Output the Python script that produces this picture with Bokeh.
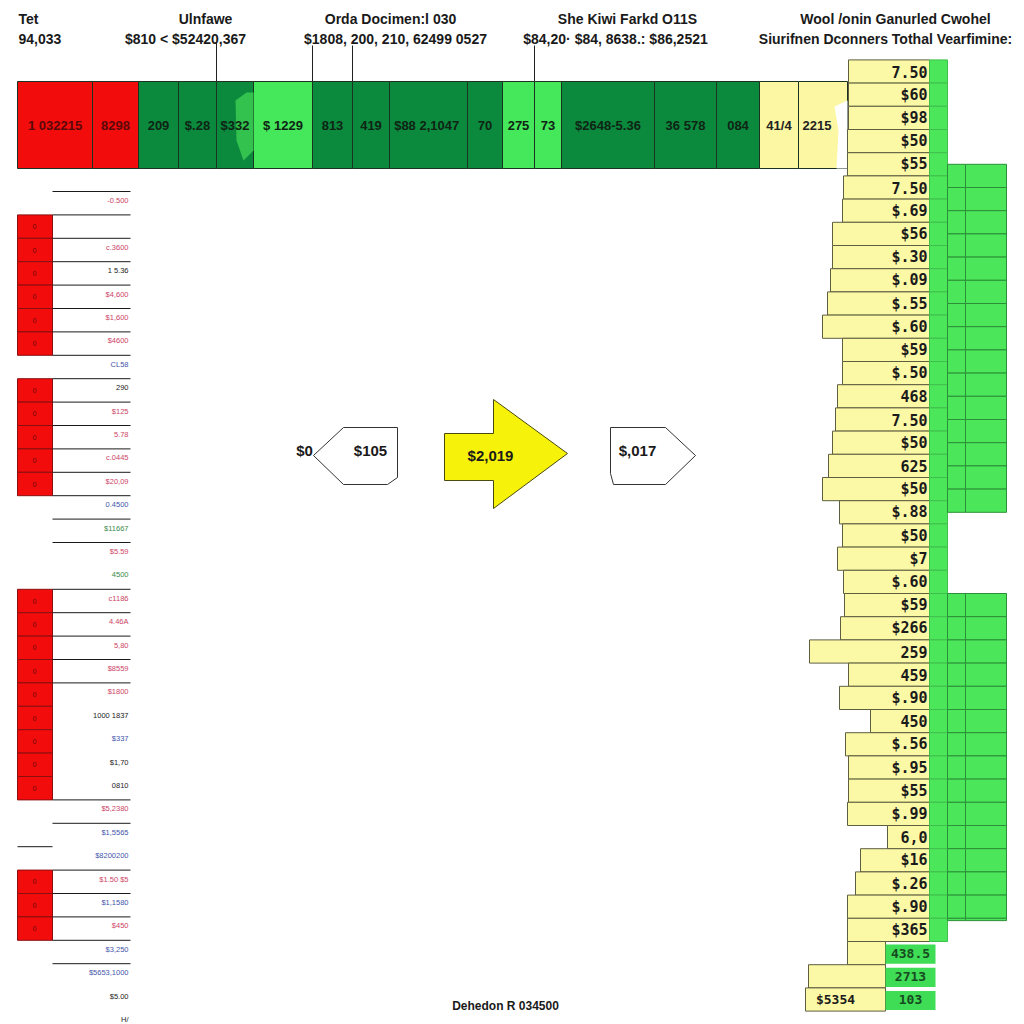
from bokeh.plotting import figure
from bokeh.models import Range1d, ColumnDataSource
from bokeh.embed import file_html
from bokeh.resources import INLINE
from bokeh.core.properties import value
import numpy as np

# ---------------- data ----------------
header_titles = ["Tet", "Ulnfawe", "Orda Docimen:l 030", "She Kiwi Farkd O11S",
                 "Wool /onin Ganurled Cwohel"]
header_values = ["94,033", "$810 < $52420,367", "$1808, 200, 210, 62499 0527",
                 "$84,20\u00b7 $84, 8638.: $86,2521", "Siurifnen Dconners Tothal Vearfimine:"]

top_labels = ["1 032215", "8298", "209", "$.28", "$332", "$ 1229", "813", "419",
              "$88  2,1047", "70", "275", "73", "$2648-5.36", "36 578", "084", "41/4", "2215"]
top_widths = [75, 46, 40, 38, 37, 59, 40, 37, 78, 35, 32, 27, 93, 62, 43, 39, 49]
top_kind = ["loss", "loss", "gain", "gain", "gain", "mid", "gain", "gain", "gain", "gain",
            "mid", "mid", "gain", "gain", "gain", "flat", "flat"]

right_labels = ["7.50", "$60", "$98", "$50", "$55", "7.50", "$.69", "$56", "$.30", "$.09",
                "$.55", "$.60", "$59", "$.50", "468", "7.50", "$50", "625", "$50", "$.88",
                "$50", "$7", "$.60", "$59", "$266", "259", "459", "$.90", "450", "$.56",
                "$.95", "$55", "$.99", "6,0", "$16", "$.26", "$.90", "$365", "438.5", "2713", "103"]
right_lengths = [81, 81, 81, 82, 82, 86, 87, 97, 97, 99, 102, 107, 87, 87, 92, 94, 97, 101,
                 107, 90, 87, 92, 86, 85, 89, 120, 81, 90, 59, 84, 81, 81, 82, 42, 69, 74,
                 82, 82, 82, 121, 124]
right_total_rows = 3
right_extra_label = "$5354"

left_red = [0, 1, 1, 1, 1, 1, 1, 0, 1, 1, 1, 1, 1, 0, 0, 0, 0,
            1, 1, 1, 1, 1, 1, 1, 1, 1, 0, 0, 0, 1, 1, 1, 0]
left_line = [1, 1, 1, 1, 1, 1, 1, 1, 1, 1, 1, 1, 1, 1, 1, 1, 0,
             1, 1, 1, 1, 1, 0, 0, 0, 0, 1, 1, 2, 1, 1, 1, 1]
left_texts = ["-0.500", "", "c.3600", "1 5.36", "$4,600", "$1,600", "$4600", "CL58", "290",
              "$125", "5.78", "c.0445", "$20,09", "0.4500", "$11667", "$5.59", "4500",
              "c1186", "4.46A", "5,80", "$8559", "$1800", "1000 1837", "$337", "$1,70",
              "0810", "$5,2380", "$1,5565", "$8200200", "$1.50 $5", "$1,1580", "$450",
              "$3,250", "$5653,1000", "$5.00", "H/"]
left_text_kind = ["p", "", "p", "k", "p", "p", "p", "b", "k", "p", "p", "p", "p", "b", "g",
                  "p", "g", "p", "p", "p", "p", "p", "k", "b", "k", "k", "p", "b", "b", "p",
                  "b", "p", "b", "b", "k", "k"]

arrow_left_prefix = "$0"
arrow_left_value = "$105"
arrow_mid_value = "$2,019"
arrow_right_value = "$,017"
footer_text = "Dehedon R 034500"

# ---------------- styles ----------------
KIND_FILL = {"loss": "#f20c0c", "gain": "#0b8a3e", "mid": "#45e85a", "flat": "#fbf7a3"}
KIND_TEXT = {"loss": "#5a0808", "gain": "#0f2414", "mid": "#0f2414", "flat": "#222222"}
LEFT_TXT = {"p": "#cc4466", "b": "#4455aa", "g": "#3a8a4a", "k": "#222222", "": "#ffffff"}
YELLOW = "#fbf8a6"
GREEN = "#4ce65a"
GREEN_LINE = "#2a8f38"
FONT = value("Liberation Sans")
MONO = value("DejaVu Sans Mono")

p = figure(width=1024, height=1024, x_range=Range1d(0, 1024), y_range=Range1d(1024, 0),
           output_backend="svg", toolbar_location=None, min_border=0, title=None)
p.axis.visible = False
p.grid.visible = False
p.outline_line_color = None
p.background_fill_color = "white"
p.border_fill_color = "white"

# ---------------- headers ----------------
hx_t = [18, 205, 390, 627, 895]
hx_v = [18, 185, 395, 615, 885]
align = ["left", "center", "center", "center", "center"]
p.text(x=hx_t, y=[18] * 5, text=header_titles, text_align=align, text_baseline="middle",
       text_font=FONT, text_font_style="bold", text_font_size="14px", text_color="#1a1a1a")
p.text(x=hx_v, y=[38] * 5, text=header_values, text_align=align, text_baseline="middle",
       text_font=FONT, text_font_style="bold", text_font_size="14px", text_color="#1a1a1a")

# connector ticks
p.segment(x0=[216, 312, 352, 534], y0=[42, 45, 45, 45], x1=[216, 312, 352, 534],
          y1=[81] * 4, line_color="#222222", line_width=1)

# ---------------- top strip ----------------
STRIP_X0, STRIP_T, STRIP_B = 17, 81, 168
rights = STRIP_X0 + np.cumsum(top_widths)
lefts = rights - np.array(top_widths)
src_top = ColumnDataSource(dict(
    left=lefts, right=rights, fill=[KIND_FILL[k] for k in top_kind],
    tc=[KIND_TEXT[k] for k in top_kind], cx=(lefts + rights) / 2, label=top_labels))
p.quad(left="left", right="right", top=STRIP_T, bottom=STRIP_B, fill_color="fill",
       line_color="#1d3322", line_width=1, source=src_top)
# lighter green bump
p.patch(x=[235, 246, 253, 253, 243, 236], y=[100, 92, 92, 150, 160, 140],
        fill_color="#34c24e", line_color=None)
# white bite between strip and column
p.patch(x=[834, 847, 847, 836, 838], y=[106, 100, 168, 168, 130], fill_color="white",
        line_color=None)
cx_top = src_top.data["cx"].copy()
cx_top[-1] -= 6
src_top.data["cx"] = cx_top
p.text(x="cx", y=(STRIP_T + STRIP_B) / 2, text="label", text_color="tc", text_align="center",
       text_baseline="middle", text_font=FONT, text_font_style="bold", text_font_size="13px",
       source=src_top)

# ---------------- right column ----------------
R_EDGE, ROW0, STEP = 929, 71.0, 23.2
n = len(right_labels)
yc = ROW0 + STEP * np.arange(n)
is_total = np.arange(n) >= n - right_total_rows
ylefts = R_EDGE - np.array(right_lengths)
yrights = np.where(is_total, 885, R_EDGE)
p.quad(left=ylefts, right=yrights, top=yc - STEP / 2, bottom=yc + STEP / 2,
       fill_color=YELLOW, line_color="#5e5e40", line_width=1)

# narrow green column
ng = n - right_total_rows
p.quad(left=R_EDGE, right=947, top=yc[:ng] - STEP / 2, bottom=yc[:ng] + STEP / 2,
       fill_color=GREEN, line_color="#3fbf4c", line_width=1)
# wide green blocks
for a, b in [(4.5, 19.5), (23.0, 37.1)]:
    t = np.arange(a, b - 0.01, 1.0)
    tops = ROW0 - STEP / 2 + STEP * t
    bots = np.minimum(tops + STEP, ROW0 - STEP / 2 + STEP * b)
    p.quad(left=947, right=965, top=tops, bottom=bots, fill_color=GREEN,
           line_color=GREEN_LINE, line_width=1)
    p.quad(left=965, right=1006, top=tops, bottom=bots, fill_color=GREEN,
           line_color=GREEN_LINE, line_width=1)
# total rows green label cells
p.quad(left=885, right=935, top=yc[is_total] - STEP / 2 + 3, bottom=yc[is_total] + STEP / 2 - 1,
       fill_color="#3fdc55", line_color=None)
p.text(x=[R_EDGE - 2] * ng, y=yc[:ng], text=right_labels[:ng], text_align="right",
       text_baseline="middle", text_font=MONO, text_font_style="bold", text_font_size="15px",
       text_color="#1b1b1b")
p.text(x=[910] * right_total_rows, y=yc[is_total], text=right_labels[ng:], text_align="center",
       text_baseline="middle", text_font=MONO, text_font_style="bold", text_font_size="13px",
       text_color="#164a20")
p.text(x=[835], y=[yc[-1]], text=[right_extra_label], text_align="center",
       text_baseline="middle", text_font=MONO, text_font_style="bold", text_font_size="13px",
       text_color="#1b1b1b")

# ---------------- left column ----------------
L_TOP, L_STEP = 191.0, 23.4
rows = np.arange(len(left_red))
rtop = L_TOP + L_STEP * rows
red = np.array(left_red) == 1
p.quad(left=17, right=52, top=rtop[red], bottom=rtop[red] + L_STEP, fill_color="#f20c0c",
       line_color="#8a1010", line_width=1)
p.text(x=[34] * int(red.sum()), y=rtop[red] + L_STEP / 2, text=["0"] * int(red.sum()),
       text_align="center", text_baseline="middle", text_font=FONT, text_font_size="7px",
       text_color="#6a0a0a")
ll = np.array(left_line + [1])
ytop_all = L_TOP + L_STEP * np.arange(len(ll))
m1 = ll == 1
p.segment(x0=52, y0=ytop_all[m1], x1=130, y1=ytop_all[m1], line_color="#1a1a1a", line_width=1)
m2 = ll == 2
p.segment(x0=17, y0=ytop_all[m2], x1=52, y1=ytop_all[m2], line_color="#1a1a1a", line_width=1)
ty = L_TOP + 9 + L_STEP * np.arange(len(left_texts))
p.text(x=[128] * len(left_texts), y=ty, text=left_texts, text_align="right",
       text_baseline="middle", text_font=FONT, text_font_size="7.5px",
       text_color=[LEFT_TXT[k] for k in left_text_kind])

# ---------------- center shapes ----------------
def shape(cx, cy, dx, dy):
    return [cx + d for d in dx], [cy + d for d in dy]

lx, ly = shape(356, 455, [-43, -13, 41, 41, 31, -13], [0, -28, -28, 22, 29, 29])
ax, ay = shape(505, 453, [-61, -12, -12, 62, -12, -12, -61], [-20, -20, -54, 0, 55, 27, 27])
rx, ry = shape(652, 455, [-42, 13, 43, 13, -39, -42], [-28, -28, 0, 29, 29, 18])
p.patches(xs=[lx, rx], ys=[ly, ry], fill_color="white", line_color="#333333", line_width=1)
p.patch(x=ax, y=ay, fill_color="#f7f20a", line_color="#4a4a10", line_width=1)
p.text(x=[304, 370, 490, 637], y=[450, 450, 455, 450],
       text=[arrow_left_prefix, arrow_left_value, arrow_mid_value, arrow_right_value],
       text_align="center", text_baseline="middle", text_font=FONT, text_font_style="bold",
       text_font_size="15px", text_color="#1a1a1a")

# ---------------- footer ----------------
p.text(x=[505], y=[1005], text=[footer_text], text_align="center", text_baseline="middle",
       text_font=FONT, text_font_style="bold", text_font_size="12px", text_color="#1a1a1a")

open("out.html", "w").write(file_html(p, INLINE))
